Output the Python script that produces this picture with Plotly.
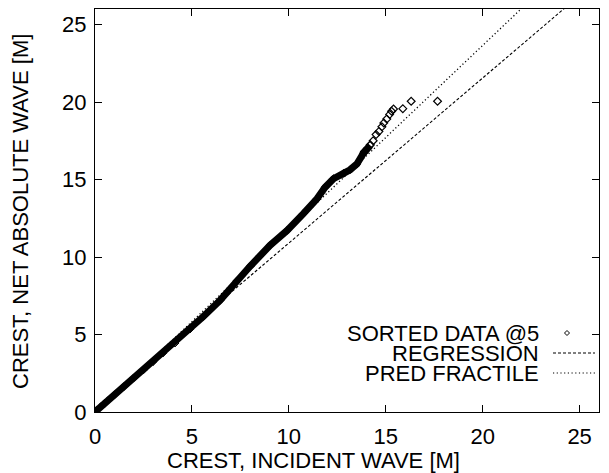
import plotly.graph_objects as go

# ---- data ----
# dense part of the sorted data (the solid band)
band_x = [0.0, 0.5, 1.0, 1.5, 2.0, 2.5, 3.0, 3.5, 4.13, 4.9, 5.59, 6.45, 7.31, 8.0,
          9.03, 9.9, 10.75, 11.45, 11.87, 12.3, 12.82, 13.16, 13.51, 13.85, 14.2]
band_y = [0.0, 0.55, 1.1, 1.65, 2.2, 2.72, 3.25, 3.8, 4.45, 5.35, 6.16, 7.2, 8.45, 9.4,
          10.75, 11.7, 12.8, 13.75, 14.5, 15.05, 15.4, 15.63, 16.0, 16.7, 17.2]
# sparse upper tail of the sorted data
tail_x = [13.9, 14.05, 14.2, 14.35, 14.5, 14.65, 14.8, 14.9, 15.05, 15.2, 15.3, 15.4,
          15.88, 16.31, 17.67]
tail_y = [16.8, 17.0, 17.25, 17.5, 17.9, 18.1, 18.4, 18.65, 18.9, 19.2, 19.4, 19.55,
          19.57, 20.05, 20.05]

reg_x = [0.0, 26.0]
reg_y = [0.25, 27.94]
frac_x = [0.0, 26.0]
frac_y = [-0.11, 30.78]

tick_vals = [0, 5, 10, 15, 20, 25]
tick_text = ["0", "5", "10", "15", "20", "25"]

name_data = "SORTED DATA @5"
name_reg = "REGRESSION"
name_frac = "PRED FRACTILE"
x_title = "CREST, INCIDENT WAVE [M]"
y_title = "CREST, NET ABSOLUTE WAVE [M]"

FONT = "Liberation Sans, Arial, Helvetica, sans-serif"
FS = 22

fig = go.Figure()
fig.add_trace(go.Scatter(x=reg_x, y=reg_y, mode="lines", name=name_reg, showlegend=False,
                         line=dict(color="black", width=1.1, dash="3px,2px")))
fig.add_trace(go.Scatter(x=frac_x, y=frac_y, mode="lines", name=name_frac, showlegend=False,
                         line=dict(color="black", width=1.3, dash="1.2px,2.5px")))
fig.add_trace(go.Scatter(x=band_x, y=band_y, mode="lines+markers", name=name_data, showlegend=False,
                         line=dict(color="black", width=7),
                         marker=dict(symbol="diamond-open", size=6, color="black", line=dict(width=1))))
fig.add_trace(go.Scatter(x=tail_x, y=tail_y, mode="markers", name=name_data, showlegend=False,
                         marker=dict(symbol="diamond-open", size=6, color="black", line=dict(width=1.2))))

# plot area in pixels: x 95..599, y 9..412
L, R, T, B = 95, 599, 9, 412
W, H = R - L, B - T

def px(xp):
    return (xp - L) / W

def py(yp):
    return (B - yp) / H

annotations = []
shapes = []
legend_rows = [(name_data, 333, "marker"), (name_reg, 353, "3px,2px"), (name_frac, 373, "1.2px,2.5px")]
for text, ypix, style in legend_rows:
    annotations.append(dict(x=px(541), y=py(ypix), xref="paper", yref="paper", text=text,
                            showarrow=False, xanchor="right", yanchor="middle",
                            font=dict(family=FONT, size=FS, color="black")))
    if style == "marker":
        cx, cy = px(567), py(ypix)
        dx, dy = 2.5 / W, 2.5 / H
        shapes.append(dict(type="path", xref="paper", yref="paper",
                           path=f"M {cx-dx} {cy} L {cx} {cy+dy} L {cx+dx} {cy} L {cx} {cy-dy} Z",
                           line=dict(color="black", width=1)))
    else:
        shapes.append(dict(type="line", xref="paper", yref="paper", x0=px(553), x1=px(595),
                           y0=py(ypix), y1=py(ypix), line=dict(color="black", width=1.1, dash=style)))

annotations.append(dict(x=px(313), y=py(460), xref="paper", yref="paper", text=x_title,
                        showarrow=False, xanchor="center", yanchor="middle",
                        font=dict(family=FONT, size=FS, color="black")))
annotations.append(dict(x=px(20), y=py(212), xref="paper", yref="paper", text=y_title,
                        showarrow=False, xanchor="center", yanchor="middle", textangle=-90,
                        font=dict(family=FONT, size=FS, color="black")))

axis_common = dict(range=[0, 26], tickvals=tick_vals, ticktext=tick_text, ticks="inside",
                   ticklen=7, tickwidth=1, tickcolor="black", showline=True, linecolor="black",
                   linewidth=1.3, mirror="ticks", showgrid=False, zeroline=False, automargin=False,
                   tickfont=dict(family=FONT, size=FS, color="black"))

fig.update_layout(
    width=609, height=473,
    margin=dict(l=L, r=609 - R, t=T, b=473 - B, autoexpand=False),
    paper_bgcolor="white", plot_bgcolor="white",
    showlegend=False,
    xaxis=dict(**axis_common, ticklabelstandoff=4),
    yaxis=dict(**axis_common, ticklabelstandoff=3),
    annotations=annotations,
    shapes=shapes,
)

fig.write_html("out.html", config={"displayModeBar": False},
               post_script="document.body.style.margin='0';document.body.style.overflow='hidden';")
